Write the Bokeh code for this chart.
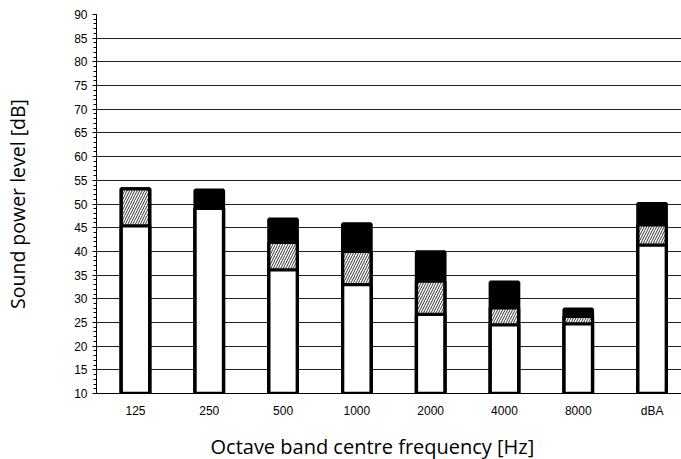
from bokeh.plotting import figure
from bokeh.models import Range1d, SingleIntervalTicker, FixedTicker, Title
from bokeh.embed import file_html
from bokeh.resources import INLINE

categories = ["125", "250", "500", "1000", "2000", "4000", "8000", "dBA"]
white_level = [45.4, 49.1, 36.1, 33.0, 26.7, 24.5, 24.7, 41.3]
hatched_level = [53.2, 49.1, 41.9, 40.0, 33.7, 28.1, 26.3, 45.6]
total_level = [53.2, 52.9, 46.8, 45.8, 39.9, 33.5, 27.8, 50.1]
y_ticks = list(range(10, 95, 5))

idx = list(range(len(categories)))
W, H = 681, 459
BL, BB, BT, BR = 96, 66, 14, 0
frame_w = W - BL - BR
spacing = 73.8
x0 = -0.528
x1 = x0 + frame_w / spacing

p = figure(width=W, height=H, output_backend="svg", toolbar_location=None,
           x_range=Range1d(x0, x1), y_range=Range1d(10, 90),
           min_border_left=BL, min_border_bottom=BB, min_border_top=BT,
           min_border_right=BR)
p.outline_line_color = None
p.background_fill_color = "white"

bw = 0.385
lw = 3.3
p.vbar(x=idx, top=total_level, bottom=10, width=bw, fill_color="black",
       line_color="black", line_width=lw)
p.vbar(x=idx, top=hatched_level, bottom=10, width=bw, fill_color="white",
       hatch_pattern="/", hatch_color="black", hatch_scale=5, hatch_weight=0.8,
       line_color="black", line_width=lw)
p.vbar(x=idx, top=white_level, bottom=10, width=bw, fill_color="white",
       line_color="black", line_width=lw)

# grid
p.xgrid.grid_line_color = None
p.ygrid.ticker = FixedTicker(ticks=y_ticks)
p.ygrid.grid_line_color = "#222222"
p.ygrid.grid_line_width = 1
p.ygrid.level = "underlay"

# y axis
ya = p.yaxis[0]
ya.ticker = SingleIntervalTicker(interval=5, num_minor_ticks=5)
ya.major_tick_out = 4
ya.major_tick_in = 0
ya.minor_tick_out = 3
ya.minor_tick_in = 0
ya.major_tick_line_color = "black"
ya.minor_tick_line_color = "black"
ya.axis_line_color = "black"
ya.major_label_text_font = "Liberation Sans"
ya.major_label_text_font_size = "12px"
ya.major_label_text_color = "black"
ya.major_label_standoff = 5
ya.axis_label = "Sound power level [dB]"
ya.axis_label_text_font = "Open Sans"
ya.axis_label_text_font_style = "normal"
ya.axis_label_text_font_size = "19.5px"
ya.axis_label_text_color = "black"
ya.axis_label_standoff = 40

# x axis
xa = p.xaxis[0]
xa.ticker = FixedTicker(ticks=idx)
xa.major_label_overrides = {i: c for i, c in zip(idx, categories)}
xa.major_tick_line_color = None
xa.minor_tick_line_color = None
xa.major_tick_out = 0
xa.major_tick_in = 0
xa.axis_line_color = "black"
xa.major_label_text_font = "Liberation Sans"
xa.major_label_text_font_size = "12px"
xa.major_label_text_color = "black"
xa.major_label_standoff = 10

spacer = Title(text=" ", text_font_size="1px", standoff=7)
p.add_layout(spacer, "below")
xt = Title(text="Octave band centre frequency [Hz]", align="left", offset=114,
           standoff=0, text_font="Open Sans", text_font_style="normal",
           text_font_size="20px", text_color="black")
p.add_layout(xt, "below")

open("out.html", "w").write(file_html(p, INLINE))
